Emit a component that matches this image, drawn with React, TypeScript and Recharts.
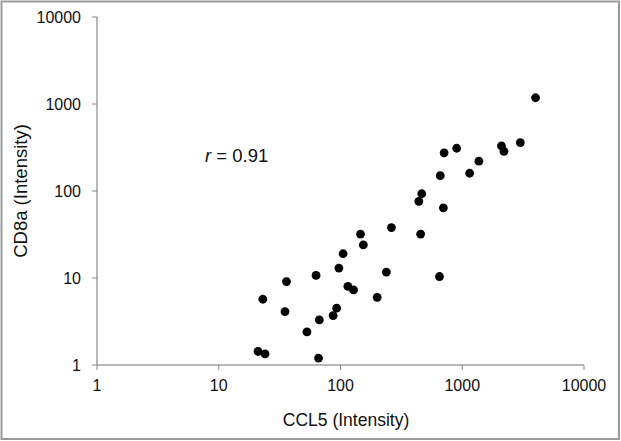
import React from "react";
import { ScatterChart, Scatter, XAxis, YAxis } from "recharts";

// CCL5 / CD8a intensities
const ccl5 = [
  4000, 3000, 2100, 2200, 900, 710, 1370, 1150, 660, 465, 440, 700, 262, 455, 146, 154, 105,
  97, 238, 115, 128, 650, 200, 93, 87, 63, 36, 23, 35, 67, 53, 21, 24, 66,
];
const cd8a = [
  1180, 360, 330, 285, 310, 275, 220, 160, 150, 93, 76, 64, 38, 32, 32, 24, 19,
  13, 11.7, 8, 7.3, 10.4, 6, 4.5, 3.7, 10.7, 9.1, 5.7, 4.1, 3.3, 2.4, 1.43, 1.34, 1.2,
];
const decadeTicks = [1, 10, 100, 1000, 10000];
const rLabel = "0.91";

const points = ccl5.map((x, i) => ({ x, y: cd8a[i] }));

const font = "'Liberation Sans', Arial, Helvetica, sans-serif";

export default function App() {
  return (
    <div style={{ position: "absolute", left: 0, top: 0, width: 621, height: 441, background: "#fff" }}>
      <ScatterChart width={621} height={441} margin={{ top: 17, right: 37, bottom: 0, left: 0 }}>
        <XAxis
          dataKey="x"
          type="number"
          scale="log"
          domain={[1, 10000]}
          ticks={decadeTicks}
          interval={0}
          allowDataOverflow
          height={76}
          tickSize={5}
          tickMargin={10}
          axisLine={{ stroke: "#707070", strokeWidth: 1 }}
          tickLine={{ stroke: "#888" }}
          tick={{ fontSize: 16, fill: "#111", fontFamily: font }}
        />
        <YAxis
          dataKey="y"
          type="number"
          scale="log"
          domain={[1, 10000]}
          ticks={decadeTicks}
          interval={0}
          allowDataOverflow
          width={97}
          tickSize={5}
          tickMargin={11}
          axisLine={{ stroke: "#a0a0a0", strokeWidth: 1.5 }}
          tickLine={{ stroke: "#888" }}
          tick={{ fontSize: 16, fill: "#111", fontFamily: font }}
        />
        <Scatter
          data={points}
          isAnimationActive={false}
          shape={(p: any) => <circle cx={p.cx} cy={p.cy} r={4.4} fill="#000" />}
        />
      </ScatterChart>
      <svg
        width={621}
        height={441}
        style={{ position: "absolute", left: 0, top: 0, pointerEvents: "none" }}
      >
        <rect x={1.5} y={1.5} width={617.5} height={437.5} fill="none" stroke="#9b9b9b" strokeWidth={2} />
        <text
          x={346}
          y={420}
          textAnchor="middle"
          dominantBaseline="central"
          fontSize={17.5}
          fontFamily={font}
          fill="#111"
        >
          CCL5 (Intensity)
        </text>
        <text
          x={20}
          y={191}
          transform="rotate(-90 20 191)"
          textAnchor="middle"
          dominantBaseline="central"
          fontSize={18.5}
          fontFamily={font}
          fill="#111"
        >
          CD8a (Intensity)
        </text>
        <text x={205} y={155} dominantBaseline="central" fontSize={18.5} fontFamily={font} fill="#111">
          <tspan fontStyle="italic">r</tspan> = {rLabel}
        </text>
      </svg>
    </div>
  );
}
